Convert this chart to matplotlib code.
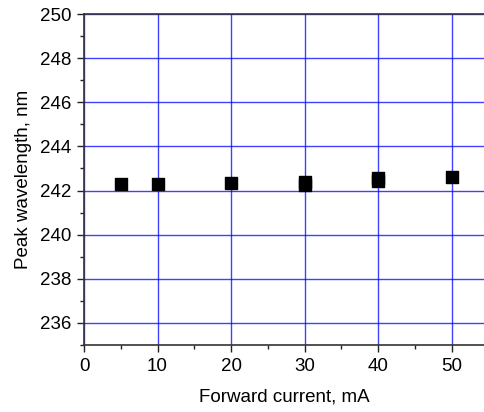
import matplotlib
matplotlib.use('Agg')
import matplotlib.pyplot as plt
from matplotlib.ticker import MultipleLocator

# forward current (mA) and peak wavelength (nm)
current = [5, 10, 20, 30, 30, 40, 40, 50]
wavelength = [242.3, 242.3, 242.35, 242.25, 242.38, 242.42, 242.55, 242.6]

plt.rcParams['font.family'] = ['Liberation Sans', 'DejaVu Sans']
plt.rcParams['font.size'] = 13.5

fig = plt.figure(figsize=(4.84, 4.12), dpi=100)
ax = fig.add_axes([0.1736, 0.1626, 0.8264, 0.8034])

ax.scatter(current, wavelength, marker='s', s=70, color='black', zorder=3)

ax.set_xlim(0, 54.4)
ax.set_ylim(235, 250)
ax.xaxis.set_major_locator(MultipleLocator(10))
ax.xaxis.set_minor_locator(MultipleLocator(5))
ax.yaxis.set_major_locator(MultipleLocator(2))
ax.yaxis.set_minor_locator(MultipleLocator(1))
ax.grid(True, which='major', color='#0000ff', alpha=0.75, linewidth=1)
ax.set_axisbelow(True)

ax.tick_params(which='major', direction='out', length=5, width=1, colors='#222222',
               labelcolor='black', pad=4)
ax.tick_params(which='minor', direction='out', length=3, width=1, colors='#222222')
ax.spines['right'].set_visible(False)
for s in ['left', 'bottom', 'top']:
    ax.spines[s].set_color('#333333')
    ax.spines[s].set_linewidth(1.2)

ax.set_xlabel('Forward current, mA', labelpad=10)
ax.set_ylabel('Peak wavelength, nm', labelpad=6)

fig.savefig('out.png', dpi=100)
